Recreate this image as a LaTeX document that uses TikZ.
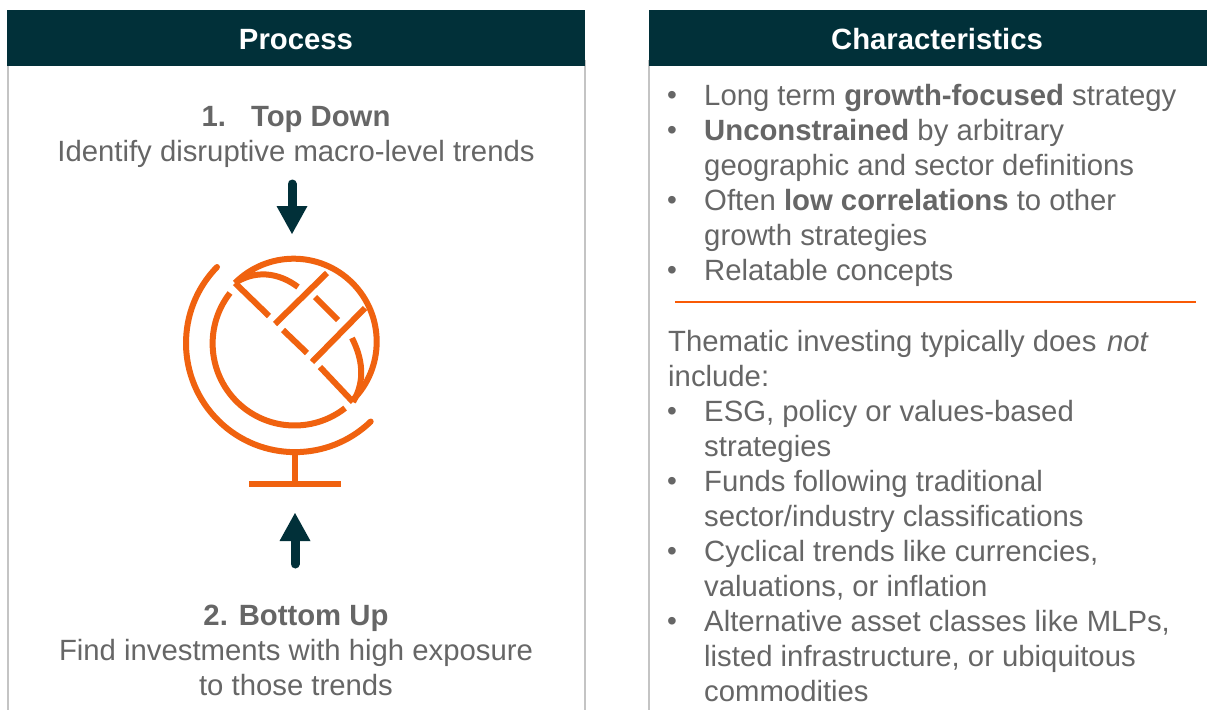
\documentclass[tikz,border=0pt]{standalone}
\usepackage{fontspec}
\setmainfont{Liberation Sans}
\definecolor{hdr}{HTML}{013039}
\definecolor{txt}{HTML}{666666}
\definecolor{org}{HTML}{F0620F}
\definecolor{rule}{HTML}{F95A05}
\definecolor{bord}{HTML}{C4C4C4}
\tikzset{
  hdrbox/.style={fill=hdr,draw=none},
  hdrtext/.style={text=white,font=\fontsize{29.3}{29.3}\selectfont\bfseries,anchor=base,inner sep=0pt},
  ctext/.style={text=txt,font=\fontsize{29.3}{29.3}\selectfont,anchor=base,inner sep=0pt},
  ltext/.style={text=txt,font=\fontsize{29.3}{29.3}\selectfont,anchor=base west,inner sep=0pt},
  bullettext/.style={text=txt,font=\fontsize{28}{28}\selectfont,anchor=base west,inner sep=0pt},
  globe/.style={draw=org,line width=6pt},
  panel/.style={draw=bord,line width=1.6pt},
  arrowshaft/.style={draw=hdr,line width=9pt,line cap=round},
  arrowhead/.style={fill=hdr,draw=none}
}
\newcommand{\bl}[2]{\node[bullettext] (b#1) at (667,#2) {•};}
\begin{document}
\begin{tikzpicture}[x=1pt,y=-1pt]
\useasboundingbox (0,0) rectangle (1207,710);
\fill[white] (0,0) rectangle (1207,710);
% panels
\coordinate (pl1) at (8,60); \coordinate (pl2) at (8,710);
\coordinate (pr1) at (585,60); \coordinate (pr2) at (585,710);
\coordinate (ql1) at (649,60); \coordinate (ql2) at (649,710);
\draw[panel] (pl1) -- (pl2);
\draw[panel] (pr1) -- (pr2);
\draw[panel] (ql1) -- (ql2);
\fill[hdrbox] (7,10) rectangle (585,66);
\fill[hdrbox] (649,10) rectangle (1207,66);
\node[hdrtext] (h1) at (296,49) {Process};
\node[hdrtext] (h2) at (937,49) {Characteristics};
% left text
\node[ctext] (t1) at (296,126) {\textbf{1.\hspace{25pt}Top Down}};
\node[ctext] (t2) at (296,161) {Identify disruptive macro-level trends};
\node[ctext] (t3) at (296,625) {\textbf{2. Bottom Up}};
\node[ctext] (t4) at (296,660) {Find investments with high exposure};
\node[ctext] (t5) at (296,695) {to those trends};
% arrows
\coordinate (a1s) at (292,184); \coordinate (a1e) at (292,208);
\draw[arrowshaft] (a1s) -- (a1e);
\fill[arrowhead] (276.5,206) -- (307.5,206) -- (292,234) -- cycle;
\coordinate (a2s) at (295,564); \coordinate (a2e) at (295,538);
\draw[arrowshaft] (a2s) -- (a2e);
\fill[arrowhead] (279.5,541) -- (310.5,541) -- (295,513) -- cycle;
% globe
\coordinate (c) at (295,343);
\draw[globe] (235,283) arc[start angle=-135,end angle=45,radius=83];
\draw[globe] (230,293) arc[start angle=-142,end angle=-308,radius=82];
\draw[globe,line cap=round] (217,267) arc[start angle=-135.7,end angle=-314,radius=109];
\draw[globe] (235,283) -- (269,316);
\draw[globe] (283,330) -- (307,353);
\draw[globe] (320,367) -- (353,402);
\draw[globe] (275,324) -- (327,273);
\draw[globe] (312,362) -- (365,308);
\draw[globe] (235,283) .. controls (255,270) and (278,272) .. (298,287);
\draw[globe] (315,297) -- (338,320);
\draw[globe] (352,338) .. controls (362,358) and (366,380) .. (353,402);
\draw[globe] (295,452) -- (295,484);
\draw[globe,line width=6pt] (249,484) -- (341,484);
% right text
\node[ltext] (r1) at (704,105) {Long term \textbf{growth-focused} strategy};
\node[ltext] (r2) at (704,140) {\textbf{Unconstrained} by arbitrary};
\node[ltext] (r3) at (704,175) {geographic and sector definitions};
\node[ltext] (r4) at (704,210) {Often \textbf{low correlations} to other};
\node[ltext] (r5) at (704,245) {growth strategies};
\node[ltext] (r6) at (704,280) {Relatable concepts};
\coordinate (o1) at (675,301.5); \coordinate (o2) at (1196,301.5);
\draw[draw=rule,line width=2pt] (o1) -- (o2);
\node[ltext] (r7) at (668,351) {Thematic investing typically does\hspace{2.5pt} \textit{not}};
\node[ltext] (r8) at (668,386) {include:};
\node[ltext] (r9) at (704,421) {ESG, policy or values-based};
\node[ltext] (r10) at (704,456) {strategies};
\node[ltext] (r11) at (704,491) {Funds following traditional};
\node[ltext] (r12) at (704,526) {sector/industry classifications};
\node[ltext] (r13) at (704,561) {Cyclical trends like currencies,};
\node[ltext] (r14) at (704,596) {valuations, or inflation};
\node[ltext] (r15) at (704,631) {Alternative asset classes like MLPs,};
\node[ltext] (r16) at (704,666) {listed infrastructure, or ubiquitous};
\node[ltext] (r17) at (704,701) {commodities};
\bl{1}{104}\bl{2}{139}\bl{3}{209}\bl{4}{279}\bl{5}{420}\bl{6}{490}\bl{7}{560}\bl{8}{630}
\end{tikzpicture}
\end{document}
